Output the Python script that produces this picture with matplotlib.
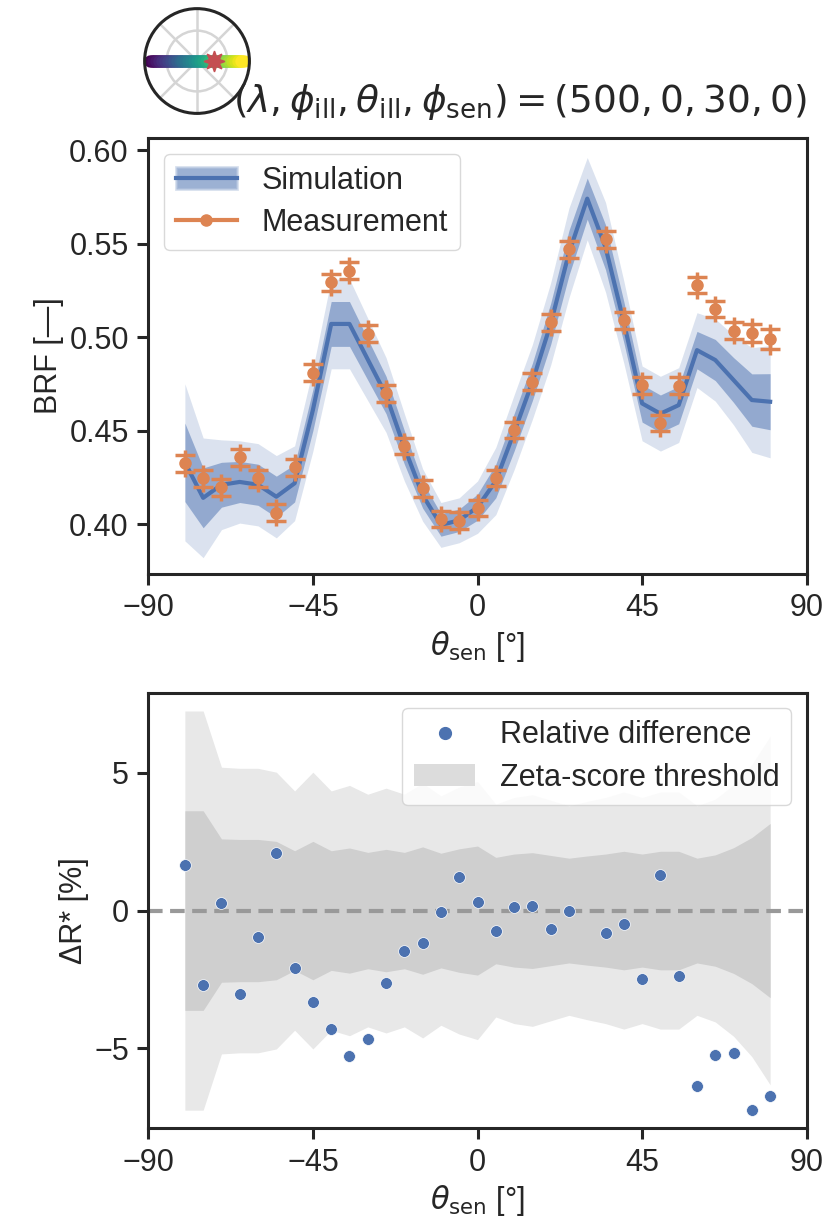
import numpy as np
import matplotlib
matplotlib.use('Agg')
import matplotlib.pyplot as plt
from matplotlib.patches import Patch, Circle
from matplotlib.lines import Line2D
from matplotlib.collections import LineCollection

# sensor zenith angles [deg]
theta_sen = [-80, -75, -70, -65, -60, -55, -50, -45, -40, -35, -30, -25, -20, -15, -10, -5,
             0, 5, 10, 15, 20, 25, 30, 35, 40, 45, 50, 55, 60, 65, 70, 75, 80]

# simulated BRF (mean) and its standard deviation
sim_brf = [0.433, 0.414, 0.421, 0.4225, 0.421, 0.4146, 0.4218, 0.461, 0.507, 0.507, 0.488,
           0.469, 0.441, 0.4155, 0.3995, 0.402, 0.409, 0.423, 0.449, 0.476, 0.507, 0.545,
           0.574, 0.548, 0.508, 0.4645, 0.459, 0.4636, 0.493, 0.4877, 0.477, 0.4663, 0.4654]
sim_std = [0.021, 0.016, 0.012, 0.011, 0.011, 0.011, 0.010, 0.011, 0.012, 0.012, 0.011,
           0.010, 0.009, 0.007, 0.006, 0.006, 0.007, 0.009, 0.010, 0.010, 0.011, 0.012,
           0.011, 0.012, 0.011, 0.010, 0.010, 0.010, 0.010, 0.011, 0.012, 0.014, 0.015]

# measured BRF (no measurement at 30 deg) and uncertainty
meas_brf = [0.4325, 0.4244, 0.4196, 0.4357, 0.4244, 0.4060, 0.4303, 0.4810, 0.5293, 0.5355,
            0.5017, 0.4699, 0.4417, 0.4191, 0.4027, 0.4018, 0.4086, 0.4246, 0.4503, 0.4760,
            0.5078, 0.5469, np.nan, 0.5522, 0.5090, 0.4743, 0.4540, 0.4740, 0.5278, 0.5150,
            0.5033, 0.5024, 0.4989]
meas_unc = [0.0045] * 30 + [0.0045, 0.0048, 0.0052]

# relative difference [%] and zeta-score threshold (1 sigma)
rel_diff = [1.66, -2.69, 0.29, -3.02, -0.97, 2.08, -2.08, -3.30, -4.28, -5.29, -4.67, -2.62,
            -1.47, -1.17, -0.04, 1.21, 0.30, -0.75, 0.14, 0.18, -0.66, 0.0, np.nan, -0.82,
            -0.48, -2.48, 1.30, -2.36, -6.35, -5.25, -5.17, -7.22, -6.73]
zeta_thr = [3.62, 3.62, 2.60, 2.58, 2.58, 2.51, 2.17, 2.51, 2.17, 2.27, 2.11, 2.22, 2.11,
            2.31, 2.08, 2.24, 2.34, 1.93, 2.05, 2.10, 2.00, 1.90, 1.98, 2.05, 2.15, 2.05,
            2.15, 2.15, 1.90, 2.02, 2.28, 2.65, 3.16]

illum_theta, illum_phi = 30, 0

blue = '#4C72B0'
orange = '#DD8452'
red = '#C44E52'

plt.rcParams['font.family'] = ['Liberation Sans', 'DejaVu Sans']
plt.rcParams['font.size'] = 22
for k in ['text.color', 'axes.labelcolor', 'xtick.color', 'ytick.color', 'axes.edgecolor']:
    plt.rcParams[k] = '#262626'
plt.rcParams['axes.linewidth'] = 2.2
for a in ['xtick', 'ytick']:
    plt.rcParams[a + '.major.width'] = 2.2
    plt.rcParams[a + '.major.size'] = 8
    plt.rcParams[a + '.major.pad'] = 6

th = np.array(theta_sen, dtype=float)
sim = np.array(sim_brf)
sd = np.array(sim_std)
meas = np.array(meas_brf)
unc = np.array(meas_unc)
z = np.array(zeta_thr)

fig = plt.figure(figsize=(8.28, 12.29), dpi=100)
ax1 = fig.add_axes([0.1791, 0.5330, 0.7952, 0.3545])
ax2 = fig.add_axes([0.1791, 0.0819, 0.7952, 0.3544])

# --- top: BRF
ax1.fill_between(th, sim - 2 * sd, sim + 2 * sd, color=blue, alpha=0.2, lw=0)
ax1.fill_between(th, sim - sd, sim + sd, color=blue, alpha=0.5, lw=0)
ax1.plot(th, sim, color=blue, lw=3)
ax1.errorbar(th, meas, yerr=1.6 * unc, fmt='none', ecolor=orange, elinewidth=2.5)
ax1.errorbar(th, meas, yerr=unc, fmt='o', color=orange, ms=8, capsize=7,
             capthick=2.5, elinewidth=2.5)
ax1.set_xlim(-90, 90)
ax1.set_ylim(0.3733, 0.6063)
ax1.set_xticks([-90, -45, 0, 45, 90])
ax1.set_yticks([0.40, 0.45, 0.50, 0.55, 0.60])
ax1.yaxis.set_major_formatter(matplotlib.ticker.FormatStrFormatter('%.2f'))
ax1.set_xlabel(r'$\theta_\mathrm{sen}$ [°]')
ax1.set_ylabel('BRF [—]')
ax1.set_title(r'$(\lambda, \phi_\mathrm{ill}, \theta_\mathrm{ill}, \phi_\mathrm{sen}) = (500, 0, 30, 0)$',
              loc='right', fontsize=27, pad=19)
h_sim = (Patch(facecolor=blue, alpha=0.55, edgecolor='#b7c6e0', lw=2),
         Line2D([], [], color=blue, lw=3))
h_meas = Line2D([], [], color=orange, marker='o', lw=3, ms=8)
ax1.legend([h_sim, h_meas], ['Simulation', 'Measurement'], loc='upper left',
           fancybox=True, framealpha=0.8, edgecolor='#d0d0d0', borderpad=0.4,
           labelspacing=0.4, handlelength=2.0)

# --- bottom: relative difference
ax2.fill_between(th, -2 * z, 2 * z, color='#e8e8e8', lw=0)
ax2.fill_between(th, -z, z, color='#cfcfcf', lw=0)
ax2.axhline(0, color='#999999', ls=(0, (3.5, 1.8)), lw=3)
ax2.plot(th, rel_diff, 'o', color=blue, ms=8.5, mec='white', mew=0.5)
ax2.set_xlim(-90, 90)
ax2.set_ylim(-7.9, 7.9)
ax2.set_xticks([-90, -45, 0, 45, 90])
ax2.set_yticks([-5, 0, 5])
ax2.set_xlabel(r'$\theta_\mathrm{sen}$ [°]')
ax2.set_ylabel('ΔR* [%]')
h_rel = Line2D([], [], color=blue, marker='o', ls='none', ms=8.5)
h_zeta = Patch(facecolor='#dcdcdc', edgecolor='none')
ax2.legend([h_rel, h_zeta], ['Relative difference', 'Zeta-score threshold'],
           loc='upper right', fancybox=True, framealpha=0.8, edgecolor='#d0d0d0',
           borderpad=0.4, labelspacing=0.4)

# --- inset: measurement geometry
ax3 = fig.add_axes([0.1715, 0.9056, 0.1329, 0.0895])
ax3.set_xlim(-1.05, 1.05)
ax3.set_ylim(-1.05, 1.05)
ax3.set_aspect('equal')
ax3.axis('off')
for ang in [0, 45, 90, 135]:
    a = np.deg2rad(ang)
    ax3.plot([-np.cos(a), np.cos(a)], [-np.sin(a), np.sin(a)], color='#d5d5d5', lw=1.8, zorder=1)
ax3.add_patch(Circle((0, 0), 0.58, fill=False, ec='#d5d5d5', lw=1.8, zorder=1))
px = th / 90.0
segs = np.array([[[px[i], 0], [px[i + 1], 0]] for i in range(len(px) - 1)])
lc = LineCollection(segs, cmap='viridis', lw=9, capstyle='round', zorder=2)
lc.set_array((th[:-1] + th[1:]) / 2)
ax3.add_collection(lc)
ax3.plot([illum_theta / 90.0 * np.cos(np.deg2rad(illum_phi))],
         [illum_theta / 90.0 * np.sin(np.deg2rad(illum_phi))],
         marker=(8, 1, 0), color=red, ms=15, zorder=3)
ax3.add_patch(Circle((0, 0), 1.0, fill=False, ec='#262626', lw=2.2, zorder=4))

fig.savefig('out.png', dpi=100)
